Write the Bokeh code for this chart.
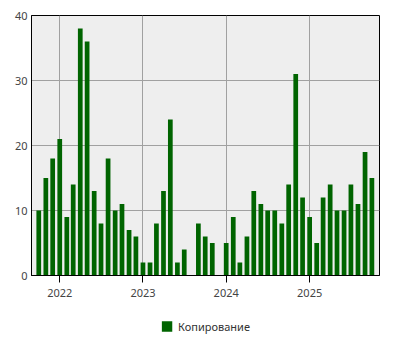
import pandas as pd
from bokeh.plotting import figure
from bokeh.layouts import column
from bokeh.models import Range1d, FixedTicker, Legend, LegendItem, ColumnDataSource
from bokeh.embed import file_html
from bokeh.resources import INLINE

months = ["2021-10", "2021-11", "2021-12",
          "2022-01", "2022-02", "2022-03", "2022-04", "2022-05", "2022-06",
          "2022-07", "2022-08", "2022-09", "2022-10", "2022-11", "2022-12",
          "2023-01", "2023-02", "2023-03", "2023-04", "2023-05", "2023-06",
          "2023-07", "2023-08", "2023-09", "2023-10", "2023-11", "2023-12",
          "2024-01", "2024-02", "2024-03", "2024-04", "2024-05", "2024-06",
          "2024-07", "2024-08", "2024-09", "2024-10", "2024-11", "2024-12",
          "2025-01", "2025-02", "2025-03", "2025-04", "2025-05", "2025-06",
          "2025-07", "2025-08", "2025-09", "2025-10"]
copies = [10, 15, 18,
          21, 9, 14, 38, 36, 13,
          8, 18, 10, 11, 7, 6,
          2, 2, 8, 13, 24, 2,
          4, 0, 8, 6, 5, 0,
          5, 9, 2, 6, 13, 11,
          10, 10, 8, 14, 31, 12,
          9, 5, 12, 14, 10, 10,
          14, 11, 19, 15]
year_ticks = ["2022-01-01", "2023-01-01", "2024-01-01", "2025-01-01"]
year_labels = ["2022", "2023", "2024", "2025"]
series_name = "Копирование"
bar_color = "#006400"

dates = pd.to_datetime([m + "-01" for m in months])
src = ColumnDataSource(dict(x=dates, top=copies))

def ms(d):
    return pd.Timestamp(d).value / 1e6

tick_ms = [ms(t) for t in year_ticks]
month_ms = 30.44 * 24 * 3600 * 1000

p = figure(width=400, height=302, output_backend="svg", toolbar_location=None,
           x_axis_type="datetime",
           x_range=Range1d(ms("2022-01-01") - 4.07 * month_ms, ms("2022-01-01") + 46.07 * month_ms),
           y_range=Range1d(0, 40),
           min_border_left=31, min_border_right=21, min_border_top=15, min_border_bottom=27)
p.background_fill_color = "#eeeeee"
p.border_fill_color = "white"
p.outline_line_color = "black"
p.outline_line_width = 1

r = p.vbar(x="x", top="top", width=0.68 * month_ms, source=src,
           fill_color=bar_color, line_color=None)

p.xaxis.ticker = FixedTicker(ticks=tick_ms)
p.xaxis.major_label_overrides = {t: l for t, l in zip(tick_ms, year_labels)}
p.yaxis.ticker = FixedTicker(ticks=[0, 10, 20, 30, 40])

for ax in (p.xaxis[0], p.yaxis[0]):
    ax.axis_line_color = "black"
    ax.minor_tick_line_color = None
    ax.major_label_text_font = "Noto Sans"
    ax.major_label_text_font_size = "11px"
    ax.major_label_text_color = "#444444"
p.xaxis.major_tick_out = 7
p.xaxis.major_tick_in = 0
p.xaxis.major_tick_line_color = "black"
p.xaxis.major_label_standoff = 6
p.yaxis.major_tick_out = 0
p.yaxis.major_tick_in = 0
p.yaxis.major_label_standoff = 4

p.xgrid.ticker = FixedTicker(ticks=tick_ms)
p.grid.grid_line_color = "#a0a0a0"
p.grid.grid_line_width = 1

# legend strip below the chart (proxy glyph sits outside its visible range)
lg = figure(width=400, height=48, output_backend="svg", toolbar_location=None,
            x_range=Range1d(0, 1), y_range=Range1d(0, 1),
            min_border=0, x_axis_location=None, y_axis_location=None)
lg.outline_line_color = None
lg.grid.visible = False
lg.background_fill_color = "white"
proxy = lg.vbar(x=[-10], top=[-10], width=0.1, fill_color=bar_color, line_color=None)
legend = Legend(items=[LegendItem(label=series_name, renderers=[proxy])],
                orientation="horizontal", location="center",
                glyph_width=13, glyph_height=13, label_text_font="Noto Sans",
                label_text_font_size="11px", label_text_color="#333333",
                border_line_color=None, background_fill_alpha=0,
                margin=0, padding=2, label_standoff=5)
lg.add_layout(legend, "center")

layout = column(p, lg, spacing=0)
open("out.html", "w").write(file_html(layout, INLINE))
